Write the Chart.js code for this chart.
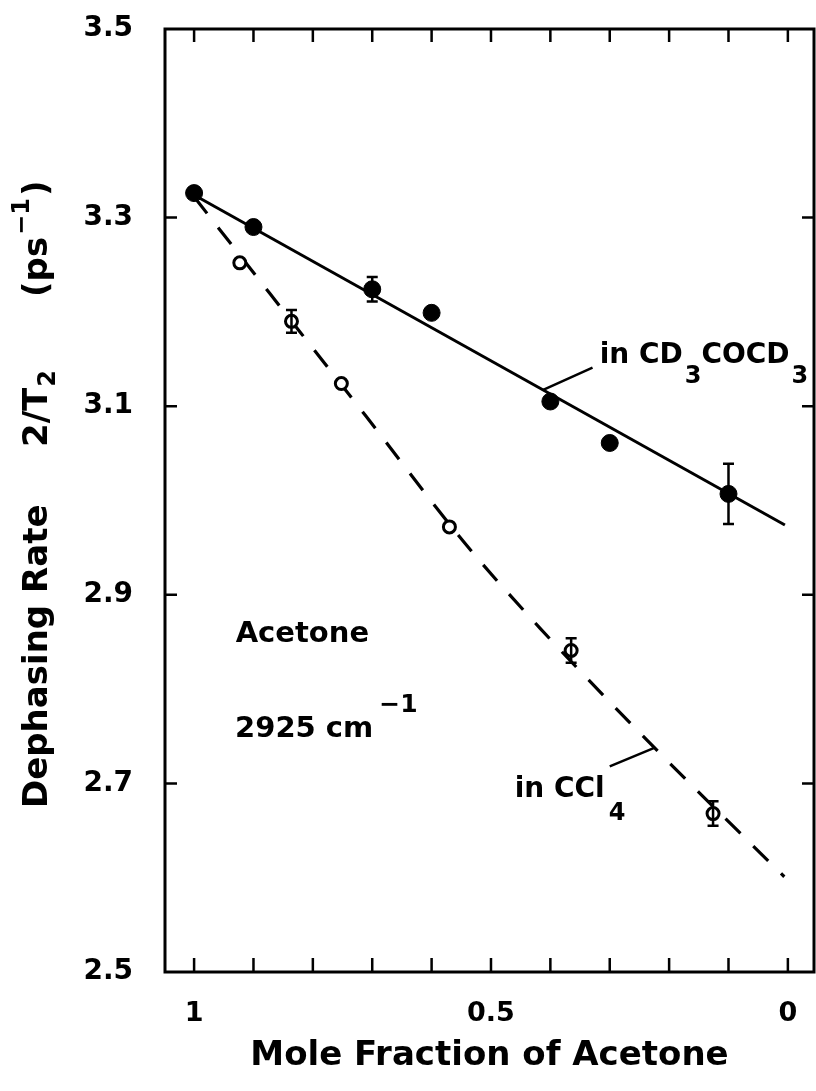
<!DOCTYPE html>
<html>
<head>
<meta charset="utf-8">
<script src="https://cdn.jsdelivr.net/npm/chart.js@4.4.1/dist/chart.umd.min.js"></script>
<style>
  html, body { margin: 0; padding: 0; background: #fff; }
  #wrap { width: 816px; height: 1091px; }
</style>
</head>
<body>
<div id="wrap"><canvas id="myChart_dephasing" width="816" height="1091"></canvas></div>
<script>
// acetone in CD3COCD3 (filled circles)
const xInD6 = [1.0, 0.9, 0.7, 0.6, 0.4, 0.3, 0.1]
const rateInD6 = [3.326, 3.290, 3.224, 3.199, 3.105, 3.061, 3.007]
const errInD6 = [0, 0, 0.013, 0, 0, 0, 0.032]

// acetone in CCl4 (open circles)
const xInCCl4 = [0.923, 0.836, 0.752, 0.570, 0.365, 0.126]
const rateInCCl4 = [3.252, 3.190, 3.124, 2.972, 2.841, 2.668]
const errInCCl4 = [0, 0.012, 0, 0, 0.013, 0.013]

// fit lines through the two sets
const fitD6X = [1.0, 0.005]
const fitD6Y = [3.324, 2.974]
const fitCCl4X = [1.0, 0.873, 0.710, 0.547, 0.418, 0.236, 0.006]
const fitCCl4Y = [3.322, 3.220, 3.089, 2.957, 2.865, 2.745, 2.601]

// axes
const xTickValues = [1, 0.5, 0]
const xTickLabels = ['1', '0.5', '0']
const xMinorTicks = [0, 0.1, 0.2, 0.3, 0.4, 0.5, 0.6, 0.7, 0.8, 0.9, 1.0]
const yTickValues = [3.5, 3.3, 3.1, 2.9, 2.7, 2.5]
const yTickLabels = ['3.5', '3.3', '3.1', '2.9', '2.7', '2.5']
const yMinorTicks = [3.3, 3.1, 2.9, 2.7]

const FONT = '"DejaVu Sans", "Liberation Sans", sans-serif'

function pts(xs, ys) {
  return xs.map((x, i) => ({ x: x, y: ys[i] }))
}

// text with sub/superscripts: parts = [[text, size, dy, gapAfter], ...]
function richText(ctx, parts, x, y) {
  let cx = x
  for (const p of parts) {
    ctx.font = 'bold ' + p[1] + 'px ' + FONT
    ctx.fillText(p[0], cx, y + (p[2] || 0))
    cx += ctx.measureText(p[0]).width + (p[3] || 0)
  }
  return cx
}

// no extra room around the plot for overhanging tick labels
function noPad(s) {
  s.paddingTop = 0
  s.paddingBottom = 0
  s.paddingLeft = 0
  s.paddingRight = 0
}

const framePlugin = {
  id: 'frame',
  afterDatasetsDraw(chart) {
    const ctx = chart.ctx
    const xs = chart.scales.x
    const ys = chart.scales.y
    const a = chart.chartArea
    ctx.save()
    ctx.strokeStyle = '#000'
    ctx.fillStyle = '#000'
    ctx.lineCap = 'butt'

    // error bars
    const errs = [errInD6, errInCCl4]
    const rates = [rateInD6, rateInCCl4]
    ctx.lineWidth = 2.5
    for (let d = 0; d < 2; d++) {
      const meta = chart.getDatasetMeta(d)
      errs[d].forEach((e, j) => {
        if (!e) return
        const px = meta.data[j].x
        const top = ys.getPixelForValue(rates[d][j] + e)
        const bot = ys.getPixelForValue(rates[d][j] - e)
        ctx.beginPath()
        ctx.moveTo(px, top); ctx.lineTo(px, bot)
        ctx.moveTo(px - 5.5, top); ctx.lineTo(px + 5.5, top)
        ctx.moveTo(px - 5.5, bot); ctx.lineTo(px + 5.5, bot)
        ctx.stroke()
      })
    }

    // plot frame
    ctx.lineWidth = 3
    ctx.strokeRect(a.left, a.top, a.right - a.left, a.bottom - a.top)

    // inward ticks
    ctx.lineWidth = 2.5
    ctx.beginPath()
    xMinorTicks.forEach(v => {
      const px = xs.getPixelForValue(v)
      ctx.moveTo(px, a.bottom); ctx.lineTo(px, a.bottom - 14)
      ctx.moveTo(px, a.top); ctx.lineTo(px, a.top + 13)
    })
    yMinorTicks.forEach(v => {
      const py = ys.getPixelForValue(v)
      ctx.moveTo(a.left, py); ctx.lineTo(a.left + 12, py)
      ctx.moveTo(a.right, py); ctx.lineTo(a.right - 12, py)
    })
    ctx.stroke()

    // leader lines to the two fits
    ctx.lineWidth = 2.5
    ctx.beginPath()
    ctx.moveTo(xs.getPixelForValue(0.413), ys.getPixelForValue(3.117))
    ctx.lineTo(xs.getPixelForValue(0.329), ys.getPixelForValue(3.141))
    ctx.moveTo(xs.getPixelForValue(0.300), ys.getPixelForValue(2.718))
    ctx.lineTo(xs.getPixelForValue(0.224), ys.getPixelForValue(2.738))
    ctx.stroke()

    // labels
    ctx.textAlign = 'left'
    ctx.textBaseline = 'alphabetic'
    richText(ctx, [['in CD', 28, 0, 2], ['3', 24, 20], ['COCD', 28, 0, 2], ['3', 24, 20]],
      xs.getPixelForValue(0.317), ys.getPixelForValue(3.146))
    richText(ctx, [['in CCl', 28, 0, 4], ['4', 24, 23]],
      xs.getPixelForValue(0.460), ys.getPixelForValue(2.686))
    richText(ctx, [['Acetone', 29, 0]],
      xs.getPixelForValue(0.930), ys.getPixelForValue(2.850))
    richText(ctx, [['2925 cm', 29, 0, 6], ['\u22121', 25, -25]],
      xs.getPixelForValue(0.931), ys.getPixelForValue(2.749))

    // y axis title, rotated
    ctx.translate(47, 808)
    ctx.rotate(-Math.PI / 2)
    richText(ctx, [['Dephasing Rate', 34, 0]], 0, 0)
    richText(ctx, [['2/T', 34, 0, 1], ['2', 24, 8]], 361, 0)
    richText(ctx, [['(ps', 34, 0, 2], ['\u22121', 24, -18, 2], [')', 34, 0]], 511, 0)
    ctx.restore()
  }
}

const config_dephasing = {
  type: 'scatter',
  data: {
    datasets: [
      {
        label: 'in CD3COCD3',
        data: pts(xInD6, rateInD6),
        pointRadius: 8.5,
        pointBackgroundColor: '#000',
        pointBorderColor: '#000',
        pointBorderWidth: 1,
        showLine: false
      },
      {
        label: 'in CCl4',
        data: pts(xInCCl4, rateInCCl4),
        pointRadius: 6,
        pointBackgroundColor: '#fff',
        pointBorderColor: '#000',
        pointBorderWidth: 3,
        showLine: false
      },
      {
        label: 'fit CD3COCD3',
        data: pts(fitD6X, fitD6Y),
        showLine: true,
        pointRadius: 0,
        borderColor: '#000',
        borderWidth: 3
      },
      {
        label: 'fit CCl4',
        data: pts(fitCCl4X, fitCCl4Y),
        showLine: true,
        pointRadius: 0,
        borderColor: '#000',
        borderWidth: 3.2,
        borderDash: [21, 18],
        cubicInterpolationMode: 'monotone'
      }
    ]
  },
  options: {
    responsive: false,
    animation: false,
    devicePixelRatio: 1,
    layout: { autoPadding: false, padding: { top: 29, right: 2, left: 0, bottom: 0 } },
    plugins: {
      legend: { display: false },
      tooltip: { enabled: false }
    },
    scales: {
      x: {
        type: 'linear',
        reverse: true,
        min: -0.044,
        max: 1.049,
        grid: { display: false, drawTicks: false },
        border: { display: false },
        afterBuildTicks: s => { s.ticks = xTickValues.map(v => ({ value: v })) },
        afterFit: s => { s.height = 119; noPad(s) },
        ticks: {
          color: '#000',
          padding: 26,
          maxRotation: 0,
          font: { family: FONT, size: 27, weight: 'bold' },
          callback: (v) => xTickLabels[xTickValues.indexOf(v)]
        },
        title: {
          display: true,
          text: 'Mole Fraction of Acetone',
          color: '#000',
          font: { family: FONT, size: 34, weight: 'bold' },
          padding: { top: 0, bottom: 14 }
        }
      },
      y: {
        type: 'linear',
        min: 2.5,
        max: 3.5,
        grid: { display: false, drawTicks: false },
        border: { display: false },
        afterBuildTicks: s => { s.ticks = yTickValues.map(v => ({ value: v })) },
        afterFit: s => { s.width = 165; noPad(s) },
        ticks: {
          color: '#000',
          padding: 32,
          font: { family: FONT, size: 28, weight: 'bold' },
          callback: (v) => yTickLabels[yTickValues.indexOf(v)]
        }
      }
    }
  },
  plugins: [framePlugin]
}

const chart_dephasing = new Chart(
  document.getElementById('myChart_dephasing'),
  config_dephasing
)
</script>
</body>
</html>
